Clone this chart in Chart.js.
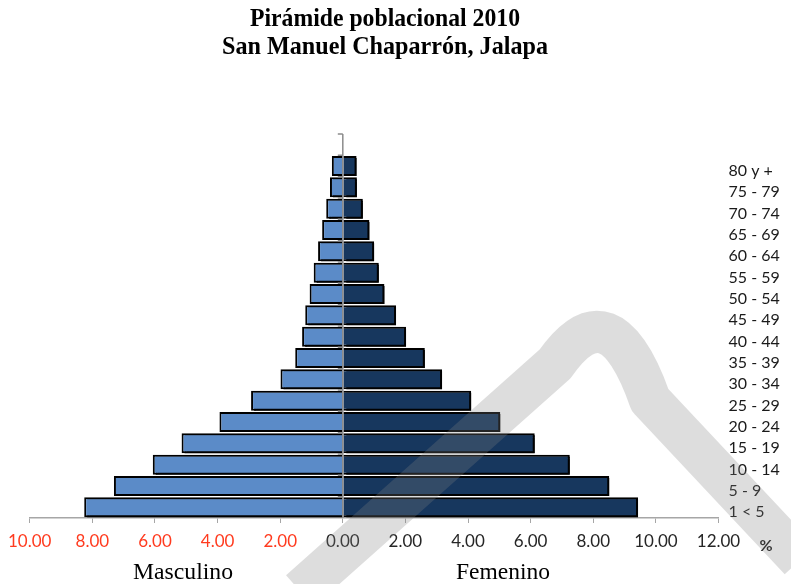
<!DOCTYPE html>
<html>
<head>
<meta charset="utf-8">
<script src="https://cdn.jsdelivr.net/npm/chart.js@4/dist/chart.umd.min.js"></script>
<style>
  html, body { margin: 0; padding: 0; background: #ffffff; }
  #wrap { width: 791px; height: 584px; position: relative; }
</style>
</head>
<body>
<div id="wrap"><canvas id="pyramid" width="791" height="584"></canvas></div>
<script>
// Age groups, top to bottom (first slot left empty above the oldest group)
const ageGroups = ['', '80 y +', '75 - 79', '70 - 74', '65 - 69', '60 - 64', '55 - 59',
  '50 - 54', '45 - 49', '40 - 44', '35 - 39', '30 - 34', '25 - 29', '20 - 24',
  '15 - 19', '10 - 14', '5 - 9', '1 < 5'];

// Share of total population (%) per age group
const masculino = [null, 0.35, 0.41, 0.53, 0.66, 0.79, 0.93, 1.06, 1.20, 1.30, 1.52,
  1.99, 2.93, 3.94, 5.15, 6.07, 7.31, 8.26];
const femenino = [null, 0.44, 0.45, 0.64, 0.85, 1.00, 1.15, 1.33, 1.70, 2.02, 2.62,
  3.17, 4.10, 5.03, 6.13, 7.25, 8.51, 9.43];

// Percentage axis
const axisMin = -10;
const axisMax = 12;
const axisStep = 2;

const titleLines = ['Pirámide poblacional 2010', 'San Manuel Chaparrón, Jalapa'];
const sexLabels = ['Masculino', 'Femenino'];
const unitLabel = '%';

// Draw text squeezed horizontally to a given width
function drawFitted(ctx, text, cx, baseline, width, font, color) {
  ctx.save();
  ctx.font = font;
  const w = ctx.measureText(text).width;
  ctx.translate(cx, baseline);
  ctx.scale(width / w, 1);
  ctx.textAlign = 'center';
  ctx.textBaseline = 'alphabetic';
  ctx.fillStyle = color;
  ctx.fillText(text, 0, 0);
  ctx.restore();
}

// Solid offset shadow behind each bar
const barShadow = {
  id: 'barShadow',
  beforeDatasetDraw(chart) {
    const c = chart.ctx;
    c.save();
    c.shadowColor = '#000000';
    c.shadowBlur = 0;
    c.shadowOffsetX = 3;
    c.shadowOffsetY = 2;
  },
  afterDatasetDraw(chart) {
    chart.ctx.restore();
  }
};

// Centre axis over the bars, with marks between age groups
const centreAxis = {
  id: 'centreAxis',
  afterDatasetsDraw(chart) {
    const c = chart.ctx;
    const x0 = chart.scales.x.getPixelForValue(0);
    const area = chart.chartArea;
    c.save();
    c.strokeStyle = '#8c8c8c';
    c.lineWidth = 1.5;
    c.beginPath();
    c.moveTo(x0, area.top);
    c.lineTo(x0, area.bottom);
    const n = ageGroups.length;
    const step = (area.bottom - area.top) / n;
    for (let i = 0; i < n; i++) {
      const yy = area.top + i * step;
      c.moveTo(x0 - 5, yy);
      c.lineTo(x0, yy);
    }
    c.stroke();
    c.restore();
  }
};

// Titles, sex labels, unit sign and the faint stamp across the page
const annotations = {
  id: 'annotations',
  afterDraw(chart) {
    const c = chart.ctx;
    drawFitted(c, titleLines[0], 385, 26, 270, 'bold 26px "Liberation Serif"', '#000000');
    drawFitted(c, titleLines[1], 385, 54, 326, 'bold 26px "Liberation Serif"', '#000000');
    drawFitted(c, sexLabels[0], 183, 579, 100, '24px "Liberation Serif"', '#000000');
    drawFitted(c, sexLabels[1], 503, 579, 94, '24px "Liberation Serif"', '#000000');
    c.save();
    c.font = 'bold 16px Lato';
    c.fillStyle = '#1a1a1a';
    c.textAlign = 'center';
    c.textBaseline = 'middle';
    c.fillText(unitLabel, 766, 546);
    c.restore();

    // stamp stroke
    c.save();
    c.strokeStyle = 'rgba(128,128,128,0.27)';
    c.lineCap = 'butt';
    c.lineJoin = 'round';
    c.lineWidth = 42;
    c.beginPath();
    c.moveTo(300, 591);
    c.lineTo(555, 364);
    c.quadraticCurveTo(610, 285, 650, 400);
    c.lineTo(800, 560);
    c.stroke();
    c.restore();
  }
};

new Chart(document.getElementById('pyramid'), {
  type: 'bar',
  data: {
    labels: ageGroups,
    datasets: [
      {
        label: sexLabels[1],
        data: femenino,
        backgroundColor: '#17375E',
        borderColor: '#000000',
        borderWidth: 2,
        borderSkipped: 'start',
        clip: false
      },
      {
        label: sexLabels[0],
        data: masculino.map(v => (v == null ? null : -v)),
        backgroundColor: '#5B8BC8',
        borderColor: '#000000',
        borderWidth: 2,
        borderSkipped: 'start',
        clip: false
      }
    ]
  },
  options: {
    indexAxis: 'y',
    responsive: false,
    animation: false,
    layout: { padding: { left: 28, top: 134, right: 0, bottom: 0 } },
    datasets: { bar: { barPercentage: 0.94, categoryPercentage: 1, grouped: false } },
    plugins: {
      legend: { display: false },
      tooltip: { enabled: false },
      title: { display: false }
    },
    scales: {
      x: {
        min: axisMin,
        max: axisMax,
        ticks: {
          stepSize: axisStep,
          autoSkip: false,
          maxRotation: 0,
          padding: 8,
          callback: v => Math.abs(v).toFixed(2),
          color: ctx => (ctx.tick && ctx.tick.value < 0 ? '#FF3B1F' : '#262626'),
          font: { family: 'Lato', size: 17 }
        },
        grid: { drawOnChartArea: false, drawTicks: true, tickLength: 5, tickColor: '#a6a6a6' },
        border: { color: '#a6a6a6', width: 1.5 },
        afterFit: s => { s.height = 66; }
      },
      y: {
        position: 'right',
        ticks: {
          autoSkip: false,
          padding: 10,
          labelOffset: 5,
          color: '#1a1a1a',
          font: { family: 'Lato', size: 16 }
        },
        grid: { display: false, drawTicks: false },
        border: { display: false },
        afterFit: s => { s.width = 72.5; }
      }
    }
  },
  plugins: [barShadow, centreAxis, annotations]
});
</script>
</body>
</html>
